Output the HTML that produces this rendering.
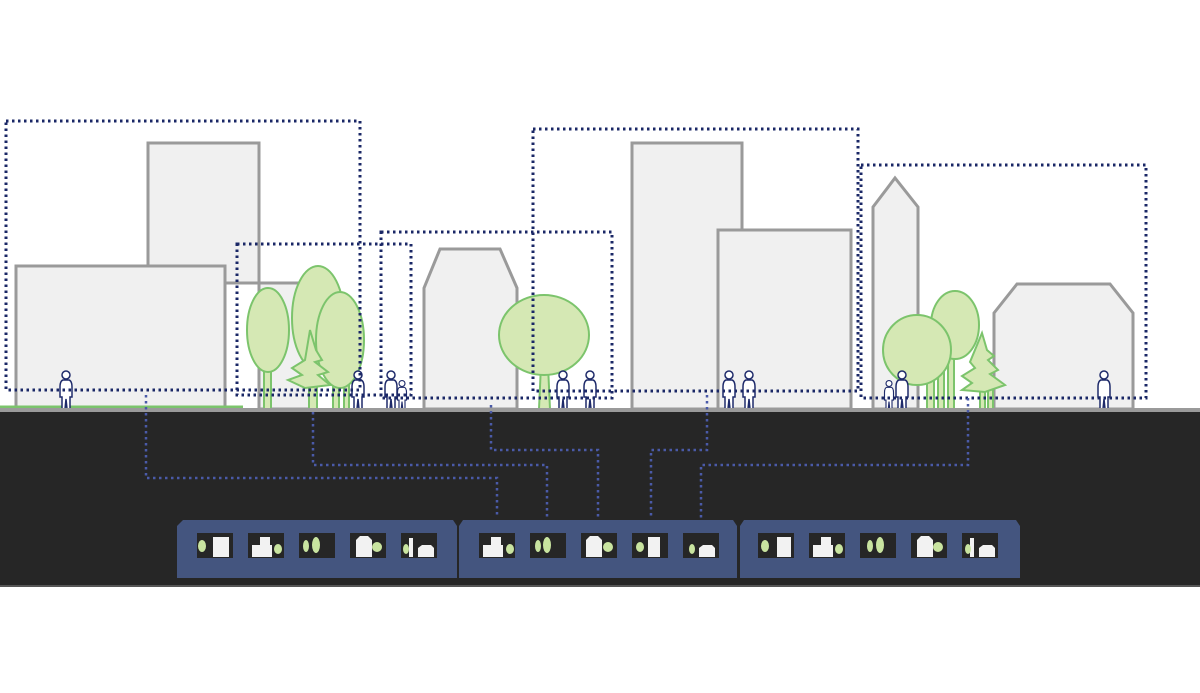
<!DOCTYPE html>
<html><head><meta charset="utf-8"><style>
html,body{margin:0;padding:0;background:#fff}
svg{display:block}
</style></head><body>
<svg width="1200" height="693" viewBox="0 0 1200 693" xmlns="http://www.w3.org/2000/svg">
<defs>
<g id="p"><circle cx="0" cy="-34" r="4" fill="#fff" stroke="#1e2a6a" stroke-width="1.5"/><path d="M-3,-29 L3,-29 Q6,-28 6,-22 L6,-12 L4,-12 L4,0 L1,0 L0,-10 L-1,0 L-4,0 L-4,-12 L-6,-12 L-6,-22 Q-6,-28 -3,-29Z" fill="#fff" stroke="#1e2a6a" stroke-width="1.5"/></g>
</defs>
<rect width="1200" height="693" fill="#fff"/>
<g fill="#f0f0f0" stroke="#9a9a9a" stroke-width="3">
<rect x="148" y="143" width="111" height="140"/>
<rect x="259" y="283" width="52" height="126"/>
<rect x="16" y="266" width="209" height="143"/>
<polygon points="424,409 424,288 440,249 500,249 517,288 517,409"/>
<rect x="632" y="143" width="110" height="266"/>
<rect x="718" y="230" width="133" height="179"/>
<polygon points="873,409 873,207 895,178 918,207 918,409"/>
<polygon points="994,409 994,313 1017,284 1110,284 1133,313 1133,409"/>
</g>
<line x1="0" y1="407" x2="243" y2="407" stroke="#7cc46c" stroke-width="3"/>
<g fill="#d5e8b4" stroke="#7cc46c" stroke-width="2">
<rect x="264" y="360" width="7" height="49"/>
<ellipse cx="268" cy="330" rx="21" ry="42"/>
<rect x="309" y="360" width="8" height="49"/>
<rect x="333" y="370" width="6" height="39"/><rect x="344" y="370" width="5" height="39"/>
<ellipse cx="318" cy="318" rx="26" ry="52"/>
<ellipse cx="340" cy="340" rx="24" ry="48"/>
<path d="M310,330 L316,350 L322,360 L315,362 L328,372 L318,375 L330,385 L305,388 L288,380 L302,375 L292,368 L305,360 Z"/>
<path d="M539,409 L541,365 L548,365 L550,409Z"/>
<ellipse cx="544" cy="335" rx="45" ry="40"/>
<rect x="927" y="365" width="7" height="44"/><rect x="948" y="355" width="6" height="54"/><rect x="938" y="365" width="6" height="44"/>
<ellipse cx="955" cy="325" rx="24" ry="34"/>
<ellipse cx="917" cy="350" rx="34" ry="35"/>
<rect x="980" y="388" width="5" height="21"/><rect x="988" y="388" width="5" height="21"/>
<path d="M982,333 L987,350 L994,356 L988,360 L998,370 L990,374 L1005,385 L985,392 L962,390 L972,383 L962,376 L975,368 L970,362 Z"/>
</g>
<use href="#p" x="66" y="409"/>
<use href="#p" x="358" y="409"/>
<use href="#p" x="391" y="409"/>
<use href="#p" x="402" y="409" transform="translate(402,409) scale(0.75) translate(-402,-409)"/>
<use href="#p" x="563" y="409"/>
<use href="#p" x="590" y="409"/>
<use href="#p" x="729" y="409"/>
<use href="#p" x="749" y="409"/>
<use href="#p" x="889" y="409" transform="translate(889,409) scale(0.75) translate(-889,-409)"/>
<use href="#p" x="902" y="409"/>
<use href="#p" x="1104" y="409"/>
<g fill="none" stroke="#1a2766" stroke-width="3" stroke-dasharray="2.5 3.5">
<rect x="6" y="121" width="354" height="269"/>
<rect x="237" y="244" width="174" height="151"/>
<rect x="381" y="232" width="231" height="166"/>
<rect x="533" y="129" width="325" height="262"/>
<rect x="861" y="165" width="285" height="233"/>
</g>
<rect x="0" y="412" width="1200" height="174" fill="#262626"/>
<rect x="0" y="408" width="1200" height="4" fill="#9a9a9a"/>
<rect x="0" y="585" width="1200" height="2" fill="#555"/>
<g fill="none" stroke="#4a5aa8" stroke-width="2.5" stroke-dasharray="2.5 3.5">
<polyline points="146,395 146,478 497,478 497,518"/>
<polyline points="313,412 313,465 547,465 547,518"/>
<polyline points="491,405 491,450 598,450 598,518"/>
<polyline points="707,395 707,450 651,450 651,518"/>
<polyline points="968,398 968,465 701,465 701,518"/>
</g>
<g fill="#44557f">
<path d="M183,520 L453,520 L457,526 L457,578 L177,578 L177,526 Z"/>
<path d="M463,520 L733,520 L737,526 L737,578 L459,578 L459,526 Z"/>
<path d="M744,520 L1016,520 L1020,526 L1020,578 L740,578 L740,526 Z"/>
</g>
<g fill="#262626">
<rect x="197" y="533" width="36" height="25"/><rect x="248" y="533" width="36" height="25"/><rect x="299" y="533" width="36" height="25"/><rect x="350" y="533" width="36" height="25"/><rect x="401" y="533" width="36" height="25"/>
<rect x="479" y="533" width="36" height="25"/><rect x="530" y="533" width="36" height="25"/><rect x="581" y="533" width="36" height="25"/><rect x="632" y="533" width="36" height="25"/><rect x="683" y="533" width="36" height="25"/>
<rect x="758" y="533" width="36" height="25"/><rect x="809" y="533" width="36" height="25"/><rect x="860" y="533" width="36" height="25"/><rect x="911" y="533" width="36" height="25"/><rect x="962" y="533" width="36" height="25"/>
</g>
<g fill="#f2f2f2">
<rect x="213" y="537" width="16" height="20"/>
<rect x="252" y="545" width="20" height="12"/><rect x="260" y="537" width="10" height="10"/>
<path d="M356,557 L356,540 L360,536 L368,536 L372,540 L372,557Z"/>
<rect x="409" y="538" width="4" height="19"/><path d="M418,557 L418,548 L422,545 L431,545 L434,548 L434,557Z"/>
<rect x="483" y="545" width="20" height="12"/><rect x="491" y="537" width="10" height="10"/>
<path d="M586,557 L586,540 L590,536 L598,536 L602,540 L602,557Z"/>
<rect x="648" y="537" width="12" height="20"/>
<path d="M699,557 L699,548 L703,545 L712,545 L715,548 L715,557Z"/>
<rect x="777" y="537" width="14" height="20"/>
<rect x="813" y="545" width="20" height="12"/><rect x="821" y="537" width="10" height="10"/>
<path d="M917,557 L917,540 L921,536 L929,536 L933,540 L933,557Z"/>
<rect x="970" y="538" width="4" height="19"/><path d="M979,557 L979,548 L983,545 L992,545 L995,548 L995,557Z"/>
</g>
<g fill="#c9e4a0">
<ellipse cx="202" cy="546" rx="4" ry="6"/>
<ellipse cx="278" cy="549" rx="4" ry="5"/>
<ellipse cx="306" cy="546" rx="3" ry="6"/><ellipse cx="316" cy="545" rx="4" ry="8"/>
<ellipse cx="377" cy="547" rx="5" ry="5"/>
<ellipse cx="406" cy="549" rx="3" ry="5"/>
<ellipse cx="510" cy="549" rx="4" ry="5"/>
<ellipse cx="538" cy="546" rx="3" ry="6"/><ellipse cx="547" cy="545" rx="4" ry="8"/>
<ellipse cx="608" cy="547" rx="5" ry="5"/>
<ellipse cx="640" cy="547" rx="4" ry="5"/>
<ellipse cx="692" cy="549" rx="3" ry="5"/>
<ellipse cx="765" cy="546" rx="4" ry="6"/>
<ellipse cx="839" cy="549" rx="4" ry="5"/>
<ellipse cx="870" cy="546" rx="3" ry="6"/><ellipse cx="880" cy="545" rx="4" ry="8"/>
<ellipse cx="938" cy="547" rx="5" ry="5"/>
<ellipse cx="968" cy="549" rx="3" ry="5"/>
</g>
</svg>
</body></html>
